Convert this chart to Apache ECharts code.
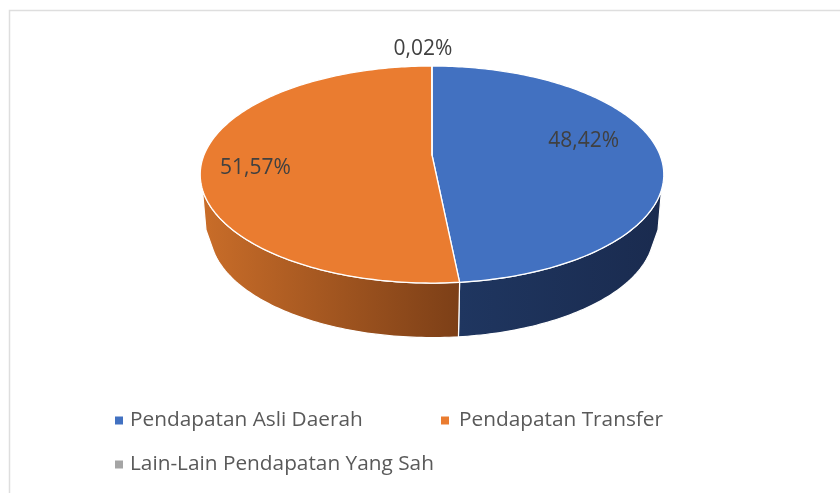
<!DOCTYPE html>
<html><head><meta charset="utf-8">
<style>html,body{margin:0;padding:0;background:#fff;overflow:hidden}#c{width:840px;height:493px}</style>
<script src="https://cdn.jsdelivr.net/npm/echarts@6/dist/echarts.min.js"></script>
</head><body><div id="c"></div>
<script>
const categories = ['Pendapatan Asli Daerah', 'Pendapatan Transfer', 'Lain-Lain Pendapatan Yang Sah'];
const values = [48.42, 51.57, 0.02];

const topColors = ['#4271C1', '#EA7C30', '#A5A5A5'];
const sideGradients = [['#1F3660', '#1A2B4F'], ['#C96D29', '#7C3F17'], ['#636363', '#636363']];
const labelLayout = [{ f: 0.67, dx: 0, dy: -11 }, { f: 0.77, dx: 0, dy: 9 }, { f: 1.262, dx: -9, dy: 2 }];
const legendLayout = [{ left: 111, top: 406, gap: 2 }, { left: 437, top: 406, gap: 5 }, { left: 111, top: 450, gap: 2 }];
const FONT = '"Open Sans", sans-serif';

// Perspective projection of a disc: top plane, bevel plane, bottom plane
const topPlane = { cx: 432, cy: 155, A: 228, B: 105, k: -0.18 };
const bevelPlane = { cx: 432, cy: 215.5, A: 222.5, B: 102, k: -0.18 };
const botPlane = { cx: 432, cy: 213.2, A: 218.4, B: 102, k: -0.18 };
const SIL_TOP = [108, 252], SIL_BEVEL = [98, 262], SIL_BOT = [110, 250];

function project(p, deg, f) {
  const t = deg * Math.PI / 180, u = Math.sin(t) * f, v = -Math.cos(t) * f, d = 1 + p.k * v;
  return [p.cx + p.A * u / d, p.cy + p.B * v / d];
}
function rim(p, a, b) {
  const n = Math.max(2, Math.ceil(Math.abs(b - a))), pts = [];
  for (let i = 0; i <= n; i++) pts.push(project(p, a + (b - a) * i / n, 1));
  return pts;
}
const total = values.reduce((s, v) => s + v, 0);
const starts = values.map((_, i) => values.slice(0, i).reduce((s, v) => s + v, 0) / total * 360);
const ends = values.map((v, i) => starts[i] + v / total * 360);

function sliceItem(i) {
  return function () {
    const a = starts[i], b = ends[i], children = [];
    if (Math.min(b, SIL_TOP[1]) > Math.max(a, SIL_TOP[0])) {
      let poly = rim(topPlane, Math.max(a, SIL_TOP[0]), Math.min(b, SIL_TOP[1]));
      if (b > SIL_TOP[1]) poly.push(project(bevelPlane, SIL_BEVEL[1], 1));
      poly = poly.concat(rim(botPlane, Math.min(b, SIL_BOT[1]), Math.max(a, SIL_BOT[0])));
      if (a < SIL_TOP[0]) poly.push(project(bevelPlane, SIL_BEVEL[0], 1));
      children.push({
        type: 'polygon', shape: { points: poly },
        style: {
          fill: new echarts.graphic.LinearGradient(0, 0, 1, 0, [
            { offset: 0, color: sideGradients[i][0] }, { offset: 1, color: sideGradients[i][1] }]),
          stroke: '#fff', lineWidth: 1.2, lineJoin: 'round'
        }
      });
    }
    children.push({
      type: 'polygon', shape: { points: [[topPlane.cx, topPlane.cy]].concat(rim(topPlane, a, b)) },
      style: { fill: topColors[i], stroke: '#fff', lineWidth: 1.3, lineJoin: 'round' }
    });
    const L = labelLayout[i], m = project(topPlane, (a + b) / 2, L.f);
    children.push({
      type: 'text', z2: 50,
      style: {
        x: m[0] + L.dx, y: m[1] + L.dy, text: values[i].toFixed(2).replace('.', ',') + '%',
        fill: '#404040', font: '21px ' + FONT, textAlign: 'center', textVerticalAlign: 'middle'
      }
    });
    return { type: 'group', children: children };
  };
}

const chart = echarts.init(document.getElementById('c'), null, { renderer: 'canvas' });
chart.setOption({
  animation: false,
  backgroundColor: '#fff',
  graphic: [{ type: 'rect', silent: true, z: -10,
    shape: { x: 9.5, y: 10.5, width: 840, height: 520 },
    style: { fill: 'none', stroke: '#DEDEDE', lineWidth: 1.5 } }],
  legend: categories.map((c, i) => ({
    data: [c], left: legendLayout[i].left, top: legendLayout[i].top, icon: 'rect',
    itemWidth: 8, itemHeight: 8, itemGap: 0, padding: [4, 4], selectedMode: false,
    textStyle: { color: '#595959', fontFamily: FONT, fontSize: 20.8, padding: [0, 0, 0, legendLayout[i].gap] }
  })),
  series: categories.map((c, i) => ({
    type: 'custom', name: c, coordinateSystem: 'none', silent: true,
    itemStyle: { color: topColors[i] },
    data: [values[i]], renderItem: sliceItem(i), z: 2 + i
  }))
});
</script></body></html>
